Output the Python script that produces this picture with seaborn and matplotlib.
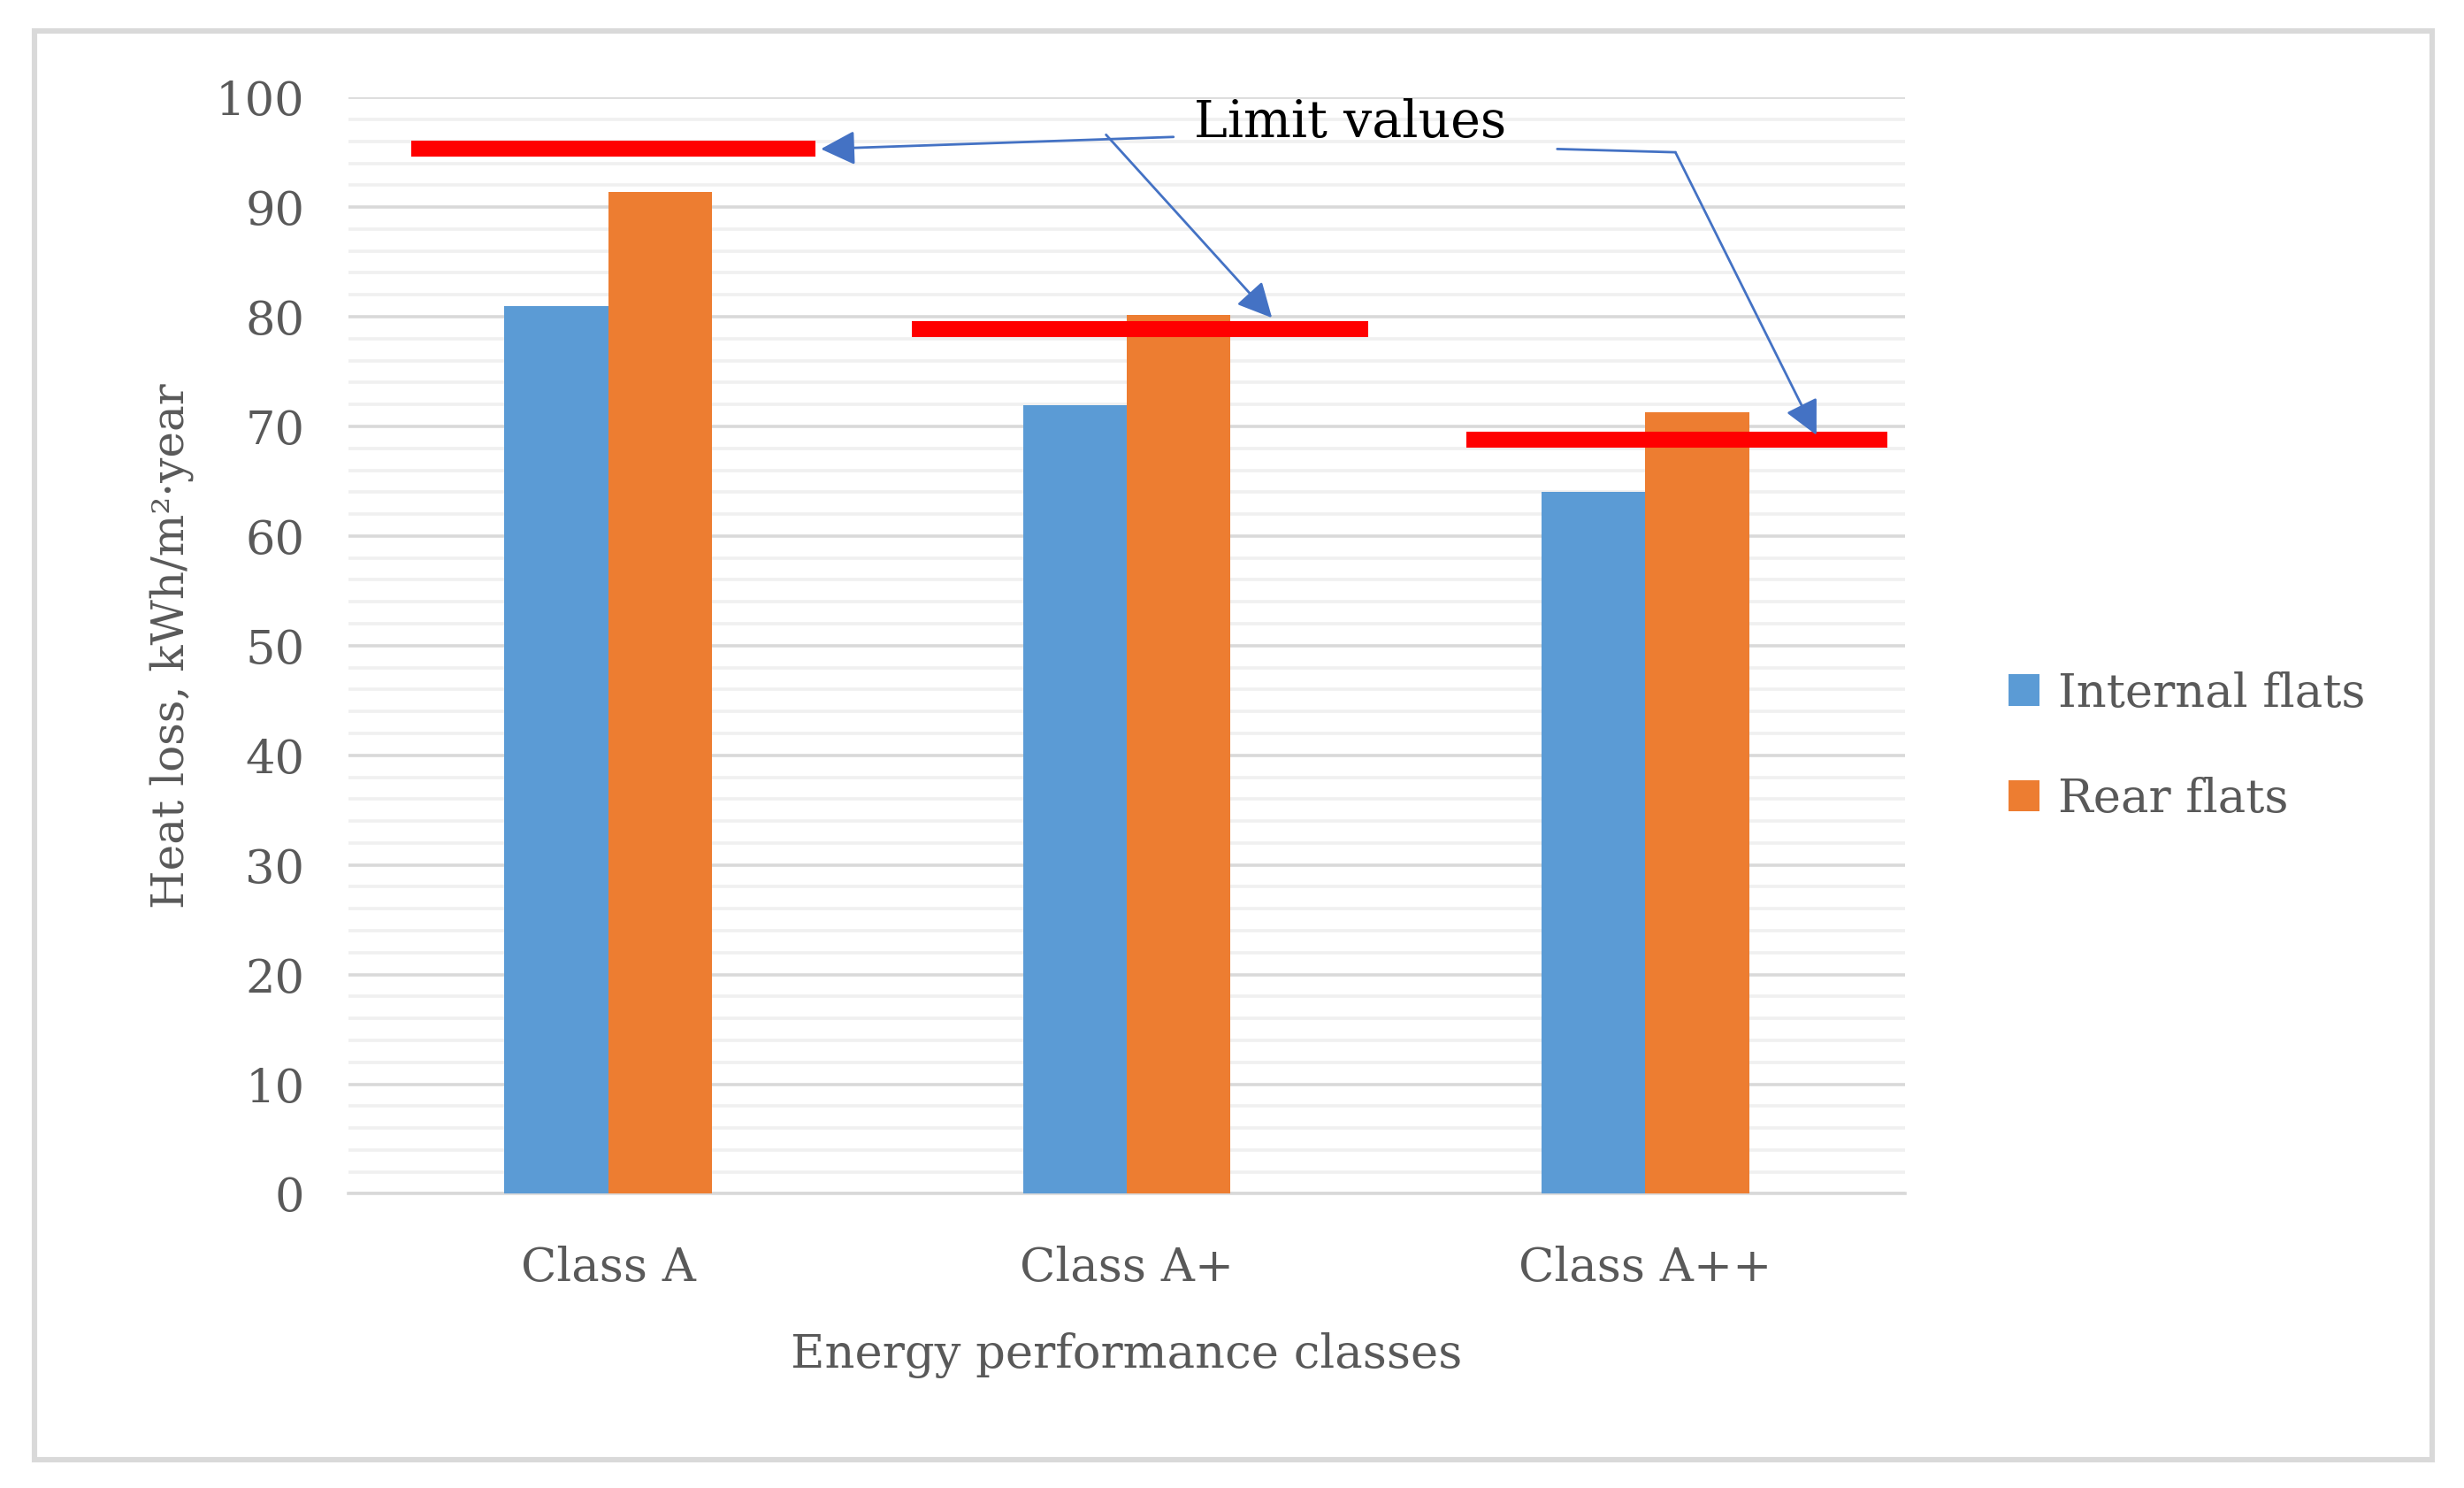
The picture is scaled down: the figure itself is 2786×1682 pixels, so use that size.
import matplotlib
matplotlib.use("Agg")
import matplotlib.pyplot as plt
from matplotlib.patches import Rectangle
from matplotlib.ticker import MultipleLocator
import seaborn as sns
import pandas as pd

# values
CLASSES = ['Class A', 'Class A+', 'Class A++']
INTERNAL_FLATS = [81.0, 71.9, 64.0]
REAR_FLATS = [91.4, 80.2, 71.3]
LIMIT_VALUES = [95.3, 78.9, 68.8]

SERIES_NAMES = ['Internal flats', 'Rear flats']
COLORS = ['#5B9BD5', '#ED7D31']
TEXT_GRAY = '#595959'
ARROW_BLUE = '#4472C4'
FS = 19

# horizontal extent of each red limit bar, relative to category centre
LIMIT_SPANS = [(-0.38, 0.40), (-0.415, 0.465), (-0.345, 0.467)]

rows = []
for cls, v_int, v_rear in zip(CLASSES, INTERNAL_FLATS, REAR_FLATS):
    rows.append((cls, SERIES_NAMES[0], v_int))
    rows.append((cls, SERIES_NAMES[1], v_rear))
data_pd = pd.DataFrame(columns=['cls', 'series', 'value'], data=rows)

sns.set_style("white")
plt.rcParams['font.family'] = ['DejaVu Serif']

fig = plt.figure(figsize=(13.93, 8.41), dpi=200)
ax = fig.add_axes([0.1416, 0.1977, 0.6314, 0.7368])

sns.barplot(data=data_pd, x='cls', y='value', hue='series', order=CLASSES,
            hue_order=SERIES_NAMES, palette=COLORS, width=0.4, saturation=1,
            linewidth=0, ax=ax, zorder=3)

ax.set_ylim(0, 100)
ax.set_xlim(-0.5, 2.5)
ax.yaxis.set_major_locator(MultipleLocator(10))
ax.yaxis.set_minor_locator(MultipleLocator(2))
ax.grid(axis='y', which='major', color='#d9d9d9', lw=1.3, zorder=0)
ax.grid(axis='y', which='minor', color='#f0f0f0', lw=1.3, zorder=0)
ax.set_axisbelow(True)
for s in ['left', 'right', 'top']:
    ax.spines[s].set_visible(False)
ax.spines['bottom'].set_color('#d9d9d9')
ax.spines['bottom'].set_linewidth(1.3)

ax.tick_params(axis='both', which='both', length=0, labelsize=FS, labelcolor=TEXT_GRAY)
ax.tick_params(axis='y', pad=18)
ax.tick_params(axis='x', pad=21)
ax.set_ylabel('Heat loss, kWh/m²·year', fontsize=18, color=TEXT_GRAY, labelpad=9)
ax.set_xlabel('Energy performance classes', fontsize=FS, color=TEXT_GRAY, labelpad=17)

# red limit bars
for i, (lim, (a, b)) in enumerate(zip(LIMIT_VALUES, LIMIT_SPANS)):
    ax.plot([i + a, i + b], [lim, lim], color='#FF0000', lw=6.5,
            solid_capstyle='butt', zorder=4)

# "Limit values" callout with arrows
ax.text(1.43, 97.7, 'Limit values', ha='center', va='center', fontsize=20.5,
        color='black', zorder=5)
arrow_kw = dict(arrowstyle='-|>,head_length=0.6,head_width=0.3', color=ARROW_BLUE,
                lw=1.0, shrinkA=0, shrinkB=0, mutation_scale=20)
ax.annotate('', xy=(0.41, 95.3), xytext=(1.09, 96.4), arrowprops=arrow_kw, zorder=5)
ax.annotate('', xy=(1.28, 79.9), xytext=(0.96, 96.6), arrowprops=arrow_kw, zorder=5)
ax.plot([1.83, 2.058], [95.3, 95.0], color=ARROW_BLUE, lw=1.0, zorder=5)
ax.annotate('', xy=(2.33, 69.2), xytext=(2.058, 95.0), arrowprops=arrow_kw, zorder=5)

leg = ax.legend(loc='center left', bbox_to_anchor=(1.04, 0.408), frameon=False,
                fontsize=FS, handlelength=0.65, handleheight=0.65, handletextpad=0.4,
                labelspacing=1.3)
for t in leg.get_texts():
    t.set_color(TEXT_GRAY)

fig.patches.append(Rectangle((0.014, 0.019), 0.973, 0.96, transform=fig.transFigure,
                             fill=False, edgecolor='#d9d9d9', lw=2.2))

plt.savefig('out.png', dpi=200)
